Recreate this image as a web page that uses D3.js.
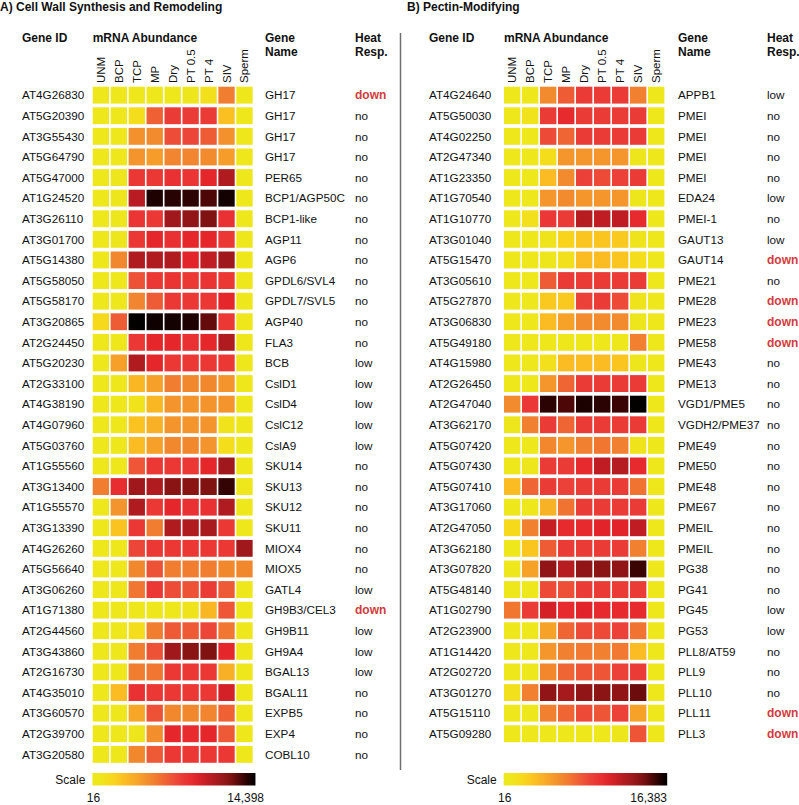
<!DOCTYPE html>
<html>
<head>
<meta charset="utf-8">
<script src="https://cdn.jsdelivr.net/npm/d3@7"></script>
<style>
  body { margin: 0; background: #fff; }
  text { font-family: "Liberation Sans", Arial, sans-serif; fill: #111; }
</style>
</head>
<body>
<script>
/* DATA */
const stages = ["UNM", "BCP", "TCP", "MP", "Dry", "PT 0.5", "PT 4", "SIV", "Sperm"]

const wallIds = ["AT4G26830","AT5G20390","AT3G55430","AT5G64790","AT5G47000","AT1G24520","AT3G26110","AT3G01700","AT5G14380","AT5G58050","AT5G58170","AT3G20865","AT2G24450","AT5G20230","AT2G33100","AT4G38190","AT4G07960","AT5G03760","AT1G55560","AT3G13400","AT1G55570","AT3G13390","AT4G26260","AT5G56640","AT3G06260","AT1G71380","AT2G44560","AT3G43860","AT2G16730","AT4G35010","AT3G60570","AT2G39700","AT3G20580"]
const wallNames = ["GH17","GH17","GH17","GH17","PER65","BCP1/AGP50C","BCP1-like","AGP11","AGP6","GPDL6/SVL4","GPDL7/SVL5","AGP40","FLA3","BCB","CslD1","CslD4","CslC12","CslA9","SKU14","SKU13","SKU12","SKU11","MIOX4","MIOX5","GATL4","GH9B3/CEL3","GH9B11","GH9A4","BGAL13","BGAL11","EXPB5","EXP4","COBL10"]
const wallHeat = ["down","no","no","no","no","no","no","no","no","no","no","no","no","low","low","low","low","low","no","no","no","no","no","no","low","down","low","low","low","no","no","no","no"]
const wallValues = [
  [20,20,20,20,20,22,28,220,20],
  [20,20,30,350,700,700,700,60,20],
  [20,20,150,170,500,550,380,150,20],
  [20,20,140,120,190,190,170,120,20],
  [20,22,750,750,900,800,1100,2500,20],
  [20,22,2200,11000,10000,9500,7500,12000,20],
  [20,22,800,750,3200,4000,5000,900,20],
  [20,22,750,1100,900,1100,1100,750,20],
  [20,180,2500,2500,2500,1200,2000,3200,20],
  [20,20,450,750,850,750,850,750,20],
  [20,20,190,380,750,750,750,1100,20],
  [35,380,14000,12500,12000,11000,6500,750,20],
  [20,20,750,1100,1100,900,1100,2500,20],
  [20,110,2500,1100,750,750,750,750,20],
  [20,20,70,110,220,180,180,140,20],
  [20,20,25,70,140,140,140,140,20],
  [20,20,55,80,140,140,140,25,20],
  [20,20,65,110,180,180,140,30,20],
  [20,20,420,750,750,750,1100,3200,20],
  [220,950,3200,2500,4500,4500,5000,9000,20],
  [20,140,2500,750,1100,900,900,2500,20],
  [20,55,750,220,2500,2500,2800,750,20],
  [20,20,550,750,750,750,750,750,3200],
  [20,20,180,450,220,220,220,180,180],
  [20,20,250,750,500,450,700,400,20],
  [20,20,20,20,20,24,70,420,20],
  [20,20,30,220,400,400,550,250,20],
  [20,20,220,450,3200,4500,5000,1100,20],
  [20,20,220,250,750,750,750,80,20],
  [20,65,900,750,750,750,750,1500,20],
  [20,20,95,450,180,180,190,350,20],
  [20,20,22,160,1100,1000,1100,400,20],
  [20,20,180,400,750,750,750,750,20]
]

const pectinIds = ["AT4G24640","AT5G50030","AT4G02250","AT2G47340","AT1G23350","AT1G70540","AT1G10770","AT3G01040","AT5G15470","AT3G05610","AT5G27870","AT3G06830","AT5G49180","AT4G15980","AT2G26450","AT2G47040","AT3G62170","AT5G07420","AT5G07430","AT5G07410","AT3G17060","AT2G47050","AT3G62180","AT3G07820","AT5G48140","AT1G02790","AT2G23900","AT1G14420","AT2G02720","AT3G01270","AT5G15110","AT5G09280"]
const pectinNames = ["APPB1","PMEI","PMEI","PMEI","PMEI","EDA24","PMEI-1","GAUT13","GAUT14","PME21","PME28","PME23","PME58","PME43","PME13","VGD1/PME5","VGDH2/PME37","PME49","PME50","PME48","PME67","PMEIL","PMEIL","PG38","PG41","PG45","PG53","PLL8/AT59","PLL9","PLL10","PLL11","PLL3"]
const pectinHeat = ["low","no","no","no","no","low","no","low","down","no","down","down","down","no","no","no","no","no","no","no","no","no","no","no","no","low","low","no","no","no","down","down"]
const pectinValues = [
  [20,20,180,400,750,750,750,220,20],
  [20,25,750,1100,750,750,750,750,20],
  [20,20,550,350,750,750,750,750,20],
  [20,20,30,140,140,140,140,22,20],
  [20,20,65,180,650,550,650,750,20],
  [20,20,140,180,140,140,140,22,20],
  [20,28,800,750,2500,2200,2200,1100,20],
  [20,20,24,40,55,55,50,24,20],
  [20,20,22,28,65,65,55,30,20],
  [20,20,400,750,750,750,750,750,20],
  [20,20,50,50,650,750,550,24,20],
  [20,20,65,110,180,180,180,22,20],
  [20,20,20,20,20,20,20,220,20],
  [20,20,28,65,65,65,55,22,20],
  [20,20,140,350,750,750,750,750,20],
  [180,800,11000,8500,12500,11000,9500,16000,20],
  [22,220,750,350,750,750,750,750,20],
  [20,20,190,140,220,260,220,24,20],
  [20,22,750,750,1100,2200,2600,1100,20],
  [65,350,750,650,750,750,750,280,20],
  [20,20,80,280,750,750,750,750,20],
  [35,220,2000,1100,1100,1300,1300,2200,20],
  [20,55,400,750,750,750,750,220,20],
  [20,110,4500,2500,4500,5000,4500,9500,20],
  [20,20,550,500,750,750,750,750,20],
  [260,750,1600,1100,1300,1100,1100,1100,20],
  [20,20,110,350,550,550,650,280,20],
  [20,20,140,220,250,220,250,65,20],
  [20,20,190,350,450,450,650,750,20],
  [28,220,4500,3200,4500,5000,4500,7000,20],
  [20,20,220,350,550,450,650,110,20],
  [20,20,20,20,20,20,22,450,20]
]

const scaleMin = 16
const wallMax = 14398
const pectinMax = 16383

/* COLOUR RAMP (position along the scale bar -> colour) */
const ramp = d3.scaleLinear()
  .domain([0, 0.05, 0.12, 0.18, 0.26, 0.35, 0.42, 0.47, 0.53, 0.58, 0.63, 0.70, 0.76, 0.83, 0.88, 0.92, 1])
  .range(["#ece81c","#eee61c","#f8d81c","#fbc420","#f7a828","#f28a2e","#f07032","#ee5a36","#ec4239","#ea3434","#e4242a","#c41e24","#a81a1e","#8a1414","#6a0c0c","#3c0404","#000000"])
  .clamp(true)

const svg = d3.select("body").append("svg")
  .attr("width", 799)
  .attr("height", 805)

// divider
svg.append("line")
  .attr("x1", 400.5).attr("x2", 400.5)
  .attr("y1", 33).attr("y2", 770)
  .attr("stroke", "#6f6f6f")
  .attr("stroke-width", 1.5)

function drawPanel(p) {
  const g = svg.append("g")

  const x = d3.scaleBand()
    .domain(stages)
    .range([p.hx, p.hx + 9 * p.step])
    .paddingInner(0.09)
    .paddingOuter(0.045)

  const y = d3.scaleBand()
    .domain(d3.range(p.ids.length))
    .range([84.85, 84.85 + p.ids.length * 20.6])
    .paddingInner(0.18)
    .paddingOuter(0.09)

  const t = d3.scaleLog().domain([scaleMin, p.max]).range([0, 1]).clamp(true)

  // title
  g.append("text")
    .attr("x", p.titleX).attr("y", 11)
    .attr("font-size", 12).attr("font-weight", "bold")
    .text(p.title)

  // headers
  const head = [
    [p.idX, 42, "Gene ID"], [x.range()[0] + 0.8, 42, "mRNA Abundance"],
    [p.nameX, 42, "Gene"], [p.nameX, 56, "Name"],
    [p.heatX, 42, "Heat"], [p.heatX, 56, "Resp."]
  ]
  g.selectAll(".head").data(head).join("text")
    .attr("class", "head")
    .attr("x", d => d[0]).attr("y", d => d[1])
    .attr("font-size", 12).attr("font-weight", "bold")
    .text(d => d[2])

  // stage labels
  g.selectAll(".stage").data(stages).join("text")
    .attr("class", "stage")
    .attr("transform", d => `translate(${x(d) + x.bandwidth() / 2 + 4},83) rotate(-90)`)
    .attr("font-size", 11.5)
    .text(d => d)

  // cells
  const cells = p.values.flatMap((row, r) => row.map((v, c) => ({ r, c, v })))
  g.selectAll(".cell").data(cells).join("rect")
    .attr("class", "cell")
    .attr("x", d => x(stages[d.c]))
    .attr("y", d => y(d.r))
    .attr("width", x.bandwidth())
    .attr("height", y.bandwidth())
    .attr("fill", d => ramp(t(d.v)))

  const mid = i => y(i) + y.bandwidth() / 2

  g.selectAll(".gid").data(p.ids).join("text")
    .attr("class", "gid")
    .attr("x", p.idX).attr("y", (d, i) => mid(i))
    .attr("dy", "0.36em")
    .attr("font-size", 11.7)
    .text(d => d)

  g.selectAll(".gname").data(p.names).join("text")
    .attr("class", "gname")
    .attr("x", p.nameX).attr("y", (d, i) => mid(i))
    .attr("dy", "0.36em")
    .attr("font-size", 11.7)
    .text(d => d)

  g.selectAll(".heat").data(p.heat).join("text")
    .attr("class", "heat")
    .attr("x", p.heatX).attr("y", (d, i) => mid(i))
    .attr("dy", "0.36em")
    .attr("font-size", d => d === "down" ? 12 : 11.7)
    .attr("font-weight", d => d === "down" ? "bold" : "normal")
    .style("fill", d => d === "down" ? "#d23c3c" : "#111")
    .text(d => d)

  // scale bar
  const grad = svg.append("defs").append("linearGradient")
    .attr("id", "grad" + p.key)
  grad.selectAll("stop").data(d3.range(0, 1.0001, 0.05)).join("stop")
    .attr("offset", d => d)
    .attr("stop-color", d => ramp(d))

  const bx0 = x.range()[0] + 0.5, bx1 = x.range()[1] + 2
  g.append("rect")
    .attr("x", bx0).attr("y", 773)
    .attr("width", bx1 - bx0).attr("height", 12.5)
    .attr("fill", `url(#grad${p.key})`)

  g.append("text")
    .attr("x", bx0 - 7).attr("y", 784)
    .attr("text-anchor", "end")
    .attr("font-size", 12)
    .text("Scale")

  g.append("text")
    .attr("x", bx0 + 1).attr("y", 802)
    .attr("text-anchor", "middle")
    .attr("font-size", 12)
    .text(d3.format(",")(scaleMin))

  g.append("text")
    .attr("x", p.maxLabelX).attr("y", 802)
    .attr("text-anchor", "end")
    .attr("font-size", 12)
    .text(d3.format(",")(p.max))
}

drawPanel({
  key: "A", title: "A) Cell Wall Synthesis and Remodeling", titleX: 0,
  ids: wallIds, names: wallNames, heat: wallHeat, values: wallValues, max: wallMax,
  idX: 22, hx: 91.9, step: 17.95, nameX: 265, heatX: 355, maxLabelX: 264
})

drawPanel({
  key: "B", title: "B) Pectin-Modifying", titleX: 407,
  ids: pectinIds, names: pectinNames, heat: pectinHeat, values: pectinValues, max: pectinMax,
  idX: 429, hx: 503.2, step: 18.0, nameX: 678, heatX: 767, maxLabelX: 667
})
</script>
</body>
</html>
